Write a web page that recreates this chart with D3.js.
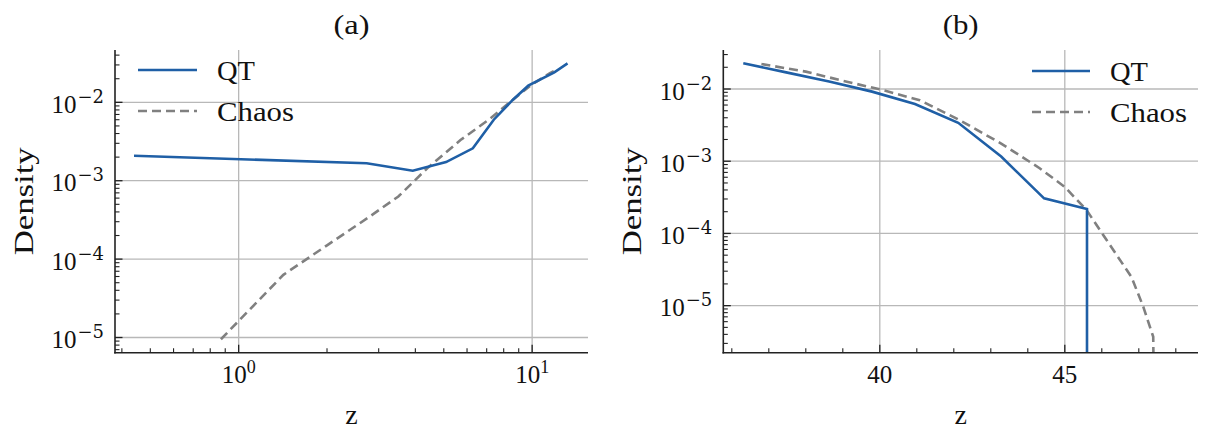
<!DOCTYPE html>
<html>
<head>
<meta charset="utf-8">
<script src="https://cdn.jsdelivr.net/npm/d3@7"></script>
<style>
  html, body { margin: 0; padding: 0; background: #fff; }
  svg { display: block; }
  text { font-family: "Liberation Serif", "DejaVu Serif", serif; fill: #111; }
</style>
</head>
<body>
<svg id="chart" width="1208" height="439"></svg>
<script>
// ---------- data ----------
// Panel (a): log-log density vs z
const qtA_z     = [0.44, 2.73, 3.92, 5.09, 6.28, 7.4, 8.6, 9.7, 11.9, 13.2];
const qtA_dens  = [2.08e-3, 1.67e-3, 1.34e-3, 1.73e-3, 2.59e-3, 6.0e-3, 1.08e-2, 1.63e-2, 2.41e-2, 3.14e-2];
const chA_z     = [0.87, 1.42, 2.0, 2.8, 3.5, 4.4, 5.7, 7.2, 8.6, 10.0, 11.5, 12.1];
const chA_dens  = [9.5e-6, 6.3e-5, 1.5e-4, 3.5e-4, 6.3e-4, 1.45e-3, 3.3e-3, 6.2e-3, 1.08e-2, 1.7e-2, 2.35e-2, 2.6e-2];

// Panel (b): linear z, log density
const qtB_z     = [36.31, 37.47, 38.63, 39.79, 40.95, 42.12, 43.28, 44.44, 45.6, 45.6];
const qtB_dens  = [2.27e-2, 1.70e-2, 1.27e-2, 9.2e-3, 6.2e-3, 3.4e-3, 1.16e-3, 3.06e-4, 2.18e-4, 0];
const chB_z     = [36.8, 38.0, 39.0, 40.0, 41.08, 42.16, 43.27, 44.32, 45.0, 45.59, 46.13, 46.8, 47.12, 47.39, 47.4];
const chB_dens  = [2.22e-2, 1.74e-2, 1.3e-2, 9.9e-3, 7.0e-3, 3.7e-3, 1.77e-3, 8.0e-4, 4.4e-4, 2.1e-4, 8.1e-5, 2.5e-5, 9.7e-6, 3.7e-6, 0];

const seriesNames = ["QT", "Chaos"];
const panelTitles = ["(a)", "(b)"];
const xLabel = "z";
const yLabel = "Density";

const xTicksA = [1, 10];
const xTickLabelsA = [["10", "0"], ["10", "1"]];
const xTicksB = [40, 45];
const xTickLabelsB = ["40", "45"];
const yTicksA = [1e-5, 1e-4, 1e-3, 1e-2];
const yTicksB = [1e-5, 1e-4, 1e-3, 1e-2];
const yTickExp = { 1e-5: "\u22125", 1e-4: "\u22124", 1e-3: "\u22123", 1e-2: "\u22122" };

// ---------- style ----------
const blue = "#1f5fa6";
const gray = "#808080";
const gridColor = "#b8b8b8";
const spineColor = "#222";
const fs = 25;
const supFont = "DejaVu Serif";
const legendWidths = { "QT": 38, "Chaos": 77 };

const svg = d3.select("#chart");

const panels = [
  {
    left: 115, right: 588, top: 50, bottom: 352.7,
    x: d3.scaleLog().domain([0.379, 15.5]),
    y: d3.scaleLog().domain([6.4e-6, 4.65e-2]),
    qt: qtA_z.map((z, i) => [z, qtA_dens[i]]),
    ch: chA_z.map((z, i) => [z, chA_dens[i]]),
    xTicks: xTicksA, xLabels: xTickLabelsA, logX: true,
    yTicks: yTicksA,
    legend: { lineX0: 138, lineX1: 197, textX: 217, y0: 70 },
    title: panelTitles[0], ylabX: 33
  },
  {
    left: 723.3, right: 1198, top: 50, bottom: 352.7,
    x: d3.scaleLinear().domain([35.77, 48.6]),
    y: d3.scaleLog().domain([2.23e-6, 3.47e-2]),
    qt: qtB_z.map((z, i) => [z, qtB_dens[i]]),
    ch: chB_z.map((z, i) => [z, chB_dens[i]]),
    xTicks: xTicksB, xLabels: xTickLabelsB, logX: false,
    yTicks: yTicksB,
    legend: { lineX0: 1032, lineX1: 1090, textX: 1110, y0: 71 },
    title: panelTitles[1], ylabX: 641
  }
];

panels.forEach((p, pi) => {
  p.x.range([p.left, p.right]);
  p.y.range([p.bottom, p.top]);
  const g = svg.append("g");
  const clipId = "clip" + pi;
  svg.append("defs").append("clipPath").attr("id", clipId)
    .append("rect").attr("x", p.left).attr("y", p.top - 5)
    .attr("width", p.right - p.left + 5).attr("height", p.bottom - p.top + 5);

  // grid lines
  g.selectAll(".gx").data(p.xTicks).enter().append("line")
    .attr("x1", d => p.x(d)).attr("x2", d => p.x(d))
    .attr("y1", p.top).attr("y2", p.bottom)
    .attr("stroke", gridColor).attr("stroke-width", 1.3);
  g.selectAll(".gy").data(p.yTicks).enter().append("line")
    .attr("x1", p.left).attr("x2", p.right)
    .attr("y1", d => p.y(d)).attr("y2", d => p.y(d))
    .attr("stroke", gridColor).attr("stroke-width", 1.3);

  // minor ticks
  let xMinor;
  if (p.logX) {
    xMinor = p.x.ticks().filter(t => !p.xTicks.includes(t));
  } else {
    xMinor = d3.range(Math.ceil(p.x.domain()[0]), Math.floor(p.x.domain()[1]) + 1).filter(t => !p.xTicks.includes(t));
  }
  g.selectAll(".mx").data(xMinor).enter().append("line")
    .attr("x1", d => p.x(d)).attr("x2", d => p.x(d))
    .attr("y1", p.bottom).attr("y2", p.bottom - 4.5)
    .attr("stroke", spineColor).attr("stroke-width", 1.1);
  const yMinor = p.y.ticks().filter(t => !p.yTicks.some(m => Math.abs(m - t) / m < 1e-6));
  g.selectAll(".my").data(yMinor).enter().append("line")
    .attr("x1", p.left).attr("x2", p.left + 4.5)
    .attr("y1", d => p.y(d)).attr("y2", d => p.y(d))
    .attr("stroke", spineColor).attr("stroke-width", 1.1);

  // major ticks
  g.selectAll(".Mx").data(p.xTicks).enter().append("line")
    .attr("x1", d => p.x(d)).attr("x2", d => p.x(d))
    .attr("y1", p.bottom).attr("y2", p.bottom - 8)
    .attr("stroke", spineColor).attr("stroke-width", 1.3);
  g.selectAll(".My").data(p.yTicks).enter().append("line")
    .attr("x1", p.left).attr("x2", p.left + 7.5)
    .attr("y1", d => p.y(d)).attr("y2", d => p.y(d))
    .attr("stroke", spineColor).attr("stroke-width", 1.3);

  // data lines
  const yMap = v => v > 0 ? p.y(v) : p.bottom + 20;
  const line = d3.line().x(d => p.x(d[0])).y(d => yMap(d[1]));
  const lg = g.append("g").attr("clip-path", `url(#${clipId})`);
  lg.append("path").datum(p.ch).attr("d", line)
    .attr("fill", "none").attr("stroke", gray).attr("stroke-width", 2.6)
    .attr("stroke-dasharray", "9,5");
  lg.append("path").datum(p.qt).attr("d", line)
    .attr("fill", "none").attr("stroke", blue).attr("stroke-width", 2.6);

  // spines
  g.append("line").attr("x1", p.left).attr("x2", p.left)
    .attr("y1", p.top).attr("y2", p.bottom + 0.8)
    .attr("stroke", spineColor).attr("stroke-width", 1.6);
  g.append("line").attr("x1", p.left - 0.8).attr("x2", p.right)
    .attr("y1", p.bottom).attr("y2", p.bottom)
    .attr("stroke", spineColor).attr("stroke-width", 1.6);

  // x tick labels
  p.xTicks.forEach((t, i) => {
    const lab = p.xLabels[i];
    const tx = g.append("text").attr("x", p.x(t)).attr("y", 383)
      .attr("text-anchor", "middle").attr("font-size", fs);
    if (Array.isArray(lab)) {
      tx.append("tspan").text(lab[0]);
      tx.append("tspan").attr("dy", -10).attr("font-size", 18).text(lab[1]);
    } else {
      tx.text(lab);
    }
  });

  // y tick labels
  p.yTicks.forEach(t => {
    const tx = g.append("text").attr("x", p.left - 11).attr("y", p.y(t) + 10.5)
      .attr("text-anchor", "end").attr("font-size", fs);
    tx.append("tspan").text("10");
    tx.append("tspan").attr("dy", -10).attr("dx", 1).attr("font-size", 18)
      .attr("font-family", supFont).text(yTickExp[t]);
  });

  // axis labels
  g.append("text").attr("x", (p.left + p.right) / 2).attr("y", 424)
    .attr("text-anchor", "middle").attr("font-size", 28).text(xLabel);
  g.append("text")
    .attr("transform", `translate(${p.ylabX},${(p.top + p.bottom) / 2}) rotate(-90)`)
    .attr("text-anchor", "middle").attr("font-size", 27)
    .attr("textLength", 108).attr("lengthAdjust", "spacingAndGlyphs").text(yLabel);

  // title
  g.append("text").attr("x", (p.left + p.right) / 2).attr("y", 34)
    .attr("text-anchor", "middle").attr("font-size", 28)
    .attr("textLength", 36).attr("lengthAdjust", "spacingAndGlyphs").text(p.title);

  // legend
  const L = p.legend;
  const styles = [{ c: blue, d: null }, { c: gray, d: "9,5" }];
  seriesNames.forEach((name, i) => {
    const yy = L.y0 + i * 41;
    const ln = g.append("line").attr("x1", L.lineX0).attr("x2", L.lineX1)
      .attr("y1", yy).attr("y2", yy)
      .attr("stroke", styles[i].c).attr("stroke-width", 2.6);
    if (styles[i].d) ln.attr("stroke-dasharray", styles[i].d);
    g.append("text").attr("x", L.textX).attr("y", yy + 10)
      .attr("font-size", 27)
      .attr("textLength", legendWidths[name]).attr("lengthAdjust", "spacingAndGlyphs")
      .text(name);
  });
});
</script>
</body>
</html>
